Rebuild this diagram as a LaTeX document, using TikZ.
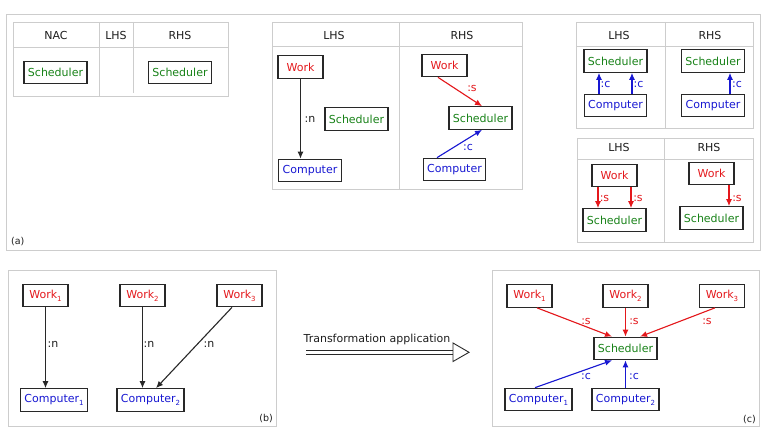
\documentclass[tikz,border=0pt]{standalone}
\usepackage{fontspec}
\setmainfont{DejaVu Sans}
\usetikzlibrary{arrows.meta}
\definecolor{wred}{RGB}{228,24,28}
\definecolor{sgreen}{RGB}{24,130,24}
\definecolor{cblue}{RGB}{24,24,210}
\definecolor{framec}{RGB}{205,205,205}
\definecolor{boxc}{RGB}{40,40,40}
\definecolor{txtc}{RGB}{30,30,30}
\newcommand\mysub[1]{\raisebox{-3pt}{\fontsize{7}{8}\selectfont #1}}
\begin{document}
\begin{tikzpicture}[x=1pt,y=-1pt,
  font=\fontsize{11}{13}\selectfont,
  box/.style={draw=boxc, line width=1.2pt, minimum width=45pt, minimum height=22.5pt, inner xsep=4pt, inner ysep=0pt, fill=white},
  work/.style={box, text=wred},
  sched/.style={box, text=sgreen},
  comp/.style={box, text=cblue},
  frame/.style={draw=framec, line width=0.9pt},
  hdr/.style={text=txtc, inner sep=1pt},
  lab/.style={inner sep=1pt},
  tag/.style={inner sep=1pt, text=txtc, font=\fontsize{9.5}{11}\selectfont},
  arr/.style={line width=1.1pt, -{Latex[length=7pt,width=6pt]}},
  narr/.style={arr, draw=boxc},
  sarr/.style={arr, draw=wred, fill=wred},
  carr/.style={arr, draw=cblue, fill=cblue}]
\useasboundingbox (0,0) rectangle (768,430);
\fill[white] (0,0) rectangle (768,430);

% ---------- frame (a)
\draw[frame] (6,14) rectangle (760,250);
\node[tag, anchor=west] (ta) at (10,242) {(a)};

% top-left table
\draw[frame] (13,22) rectangle (228,96);
\draw[frame] (13,47) -- (228,47);
\draw[frame] (99,22) -- (99,96);
\draw[frame] (133,22) -- (133,93);
\node[hdr] (h1) at (56,35) {NAC};
\node[hdr] (h2) at (116,35) {LHS};
\node[hdr] (h3) at (180,35) {RHS};
\node[sched] (n1) at (55.5,72.5) {Scheduler};
\node[sched] (r1) at (180,72.5) {Scheduler};

% middle table
\draw[frame] (272,22) rectangle (522,189);
\draw[frame] (272,46) -- (522,46);
\draw[frame] (399,22) -- (399,189);
\node[hdr] (h4) at (334,35) {LHS};
\node[hdr] (h5) at (462,35) {RHS};
\node[work] (mlw) at (300.5,67) {Work};
\node[comp] (mlc) at (310,170.5) {Computer};
\node[sched] (mls) at (356.5,119) {Scheduler};
\draw[narr] (mlw.south) -- (mlw.south |- mlc.north);
\node[lab, text=txtc] (ln1) at (310,119) {:n};
\node[work] (mrw) at (444.5,65.5) {Work};
\node[sched] (mrs) at (480.5,118) {Scheduler};
\node[comp] (mrc) at (454.5,169.5) {Computer};
\draw[sarr] ([xshift=-6.5pt]mrw.south) -- ([xshift=1.5pt]mrs.north);
\draw[carr] ([xshift=-17.5pt]mrc.north) -- ([xshift=1.5pt]mrs.south);
\node[lab, text=wred] (ls1) at (472,89) {:s};
\node[lab, text=cblue] (lc1) at (468,147) {:c};

% top-right upper table
\draw[frame] (576,22) rectangle (753,128);
\draw[frame] (576,46) -- (753,46);
\draw[frame] (665,22) -- (665,128);
\node[hdr] (h6) at (619,35) {LHS};
\node[hdr] (h7) at (710,35) {RHS};
\node[sched] (ulS) at (615.5,61) {Scheduler};
\node[comp] (ulC) at (615.5,105.5) {Computer};
\draw[carr] ([xshift=-16.5pt]ulC.north) -- ([xshift=-16.5pt]ulS.south);
\draw[carr] ([xshift=16.5pt]ulC.north) -- ([xshift=16.5pt]ulS.south);
\node[lab, text=cblue] (lc2) at (605.5,85) {:c};
\node[lab, text=cblue] (lc3) at (638.5,85) {:c};
\node[sched] (urS) at (713,61) {Scheduler};
\node[comp] (urC) at (713,105.5) {Computer};
\draw[carr] ([xshift=17pt]urC.north) -- ([xshift=17pt]urS.south);
\node[lab, text=cblue] (lc4) at (737,85) {:c};

% top-right lower table
\draw[frame] (577,138) rectangle (753,242);
\draw[frame] (577,159) -- (753,159);
\draw[frame] (664,138) -- (664,242);
\node[hdr] (h8) at (619,147.5) {LHS};
\node[hdr] (h9) at (709,147.5) {RHS};
\node[work] (llW) at (614.5,175.5) {Work};
\node[sched] (llS) at (614.5,220) {Scheduler};
\draw[sarr] ([xshift=-16.5pt]llW.south) -- ([xshift=-16.5pt]llS.north);
\draw[sarr] ([xshift=16.5pt]llW.south) -- ([xshift=16.5pt]llS.north);
\node[lab, text=wred] (ls2) at (604.5,198) {:s};
\node[lab, text=wred] (ls3) at (638,198) {:s};
\node[work] (lrW) at (711.5,173.5) {Work};
\node[sched] (lrS) at (711.5,218) {Scheduler};
\draw[sarr] ([xshift=17.5pt]lrW.south) -- ([xshift=17.5pt]lrS.north);
\node[lab, text=wred] (ls4) at (737,198) {:s};

% ---------- frame (b)
\draw[frame] (8,270) rectangle (276,426);
\node[tag, anchor=east] (tb) at (274,419) {(b)};
\node[work] (bw1) at (45.5,295.5) {Work\mysub{1}};
\node[work] (bw2) at (142.5,295.5) {Work\mysub{2}};
\node[work] (bw3) at (239.5,295.5) {Work\mysub{3}};
\node[comp] (bc1) at (54,400) {Computer\mysub{1}};
\node[comp] (bc2) at (150.5,400) {Computer\mysub{2}};
\draw[narr] (bw1.south) -- (bw1.south |- bc1.north);
\draw[narr] (bw2.south) -- (bw2.south |- bc2.north);
\draw[narr] ([xshift=-7.5pt]bw3.south) -- ([xshift=5.5pt]bc2.north);
\node[lab, text=txtc] (ln2) at (53,344) {:n};
\node[lab, text=txtc] (ln3) at (149,344) {:n};
\node[lab, text=txtc] (ln4) at (209,344) {:n};

% ---------- transformation arrow
\coordinate (ta0) at (306,350.5);
\coordinate (ta1) at (453,350.5);
\coordinate (tb0) at (306,354);
\coordinate (tb1) at (453,354);
\draw[boxc, line width=1pt] (ta0) -- (ta1);
\draw[boxc, line width=1pt] (tb0) -- (tb1);
\draw[boxc, line width=0.9pt, fill=white] (453,343) -- (469,352.3) -- (453,361.5) -- cycle;
\node[hdr] (tt) at (377,339) {Transformation application};

% ---------- frame (c)
\draw[frame] (492,270) rectangle (759,426);
\node[tag, anchor=east] (tc) at (757,420) {(c)};
\node[work] (cw1) at (529.5,296) {Work\mysub{1}};
\node[work] (cw2) at (625.5,296) {Work\mysub{2}};
\node[work] (cw3) at (722,296) {Work\mysub{3}};
\node[sched] (cs) at (625.5,348.5) {Scheduler};
\node[comp] (cc1) at (538.5,399.5) {Computer\mysub{1}};
\node[comp] (cc2) at (625.5,399.5) {Computer\mysub{2}};
\draw[sarr] ([xshift=7.5pt]cw1.south) -- ([xshift=-13.5pt]cs.north);
\draw[sarr] (cw2.south) -- (cs.north);
\draw[sarr] ([xshift=-7pt]cw3.south) -- ([xshift=14.5pt]cs.north);
\draw[carr] ([xshift=-3.5pt]cc1.north) -- ([xshift=-13.5pt]cs.south);
\draw[carr] (cc2.north) -- (cs.south);
\node[lab, text=wred] (ls5) at (586,321) {:s};
\node[lab, text=wred] (ls6) at (634,321) {:s};
\node[lab, text=wred] (ls7) at (707,321) {:s};
\node[lab, text=cblue] (lc5) at (586,376) {:c};
\node[lab, text=cblue] (lc6) at (634,376) {:c};
\end{tikzpicture}
\end{document}
